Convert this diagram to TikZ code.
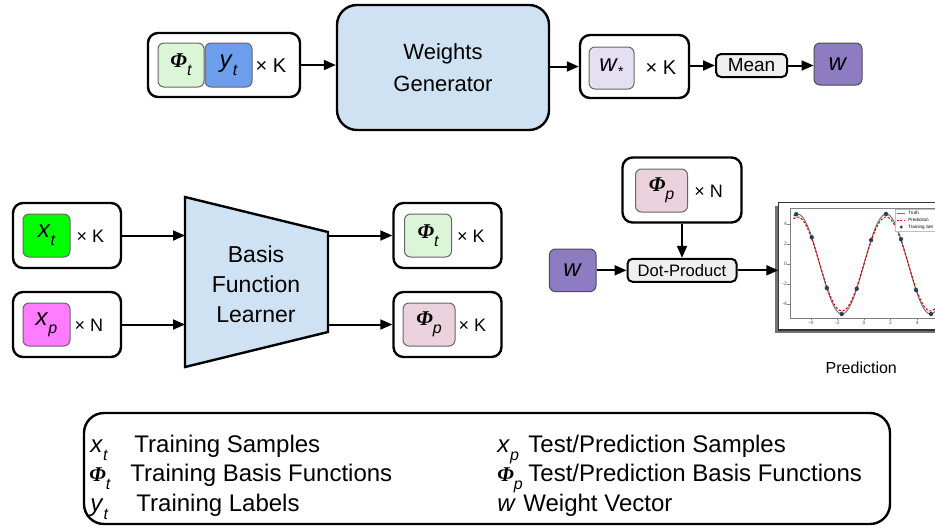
\documentclass[tikz,border=0pt]{standalone}
\usepackage{fontspec}
\setmainfont{Liberation Sans}
\newfontfamily\phifont{Liberation Serif}
\usetikzlibrary{arrows.meta}

\definecolor{gencol}{HTML}{CFE2F3}
\definecolor{phitcol}{HTML}{DAF6D7}
\definecolor{ytcol}{HTML}{6D9EEB}
\definecolor{wstarcol}{HTML}{E4E0F1}
\definecolor{wcol}{HTML}{8E7CC3}
\definecolor{xtcol}{HTML}{00FF00}
\definecolor{xpcol}{HTML}{FF7BFF}
\definecolor{phipcol}{HTML}{EAD1DC}
\definecolor{opgray}{HTML}{EFEFEF}
\definecolor{dotcol}{HTML}{2C3E5C}

\newcommand{\subtxt}[2]{\raisebox{#1}{\fontsize{8}{8}\selectfont\itshape #2}}
\newcommand{\isub}[3][-4pt]{\textit{#2}\subtxt{#1}{#3}}
\newcommand{\phisub}[2][-4pt]{{\fontsize{10.5}{10.5}\selectfont\phifont\bfseries\itshape Φ}\subtxt{#1}{#2}}

\tikzset{
  holder/.style={draw, line width=1.2pt, rounded corners=5pt, fill=white, inner sep=0pt},
  tile/.style={draw=black!60, line width=0.5pt, rounded corners=3pt, inner sep=0pt, font=\fontsize{12}{12}\selectfont},
  opbox/.style={draw, line width=1pt, rounded corners=2.5pt, fill=opgray, inner sep=0pt},
  times/.style={inner sep=0pt, font=\fontsize{9}{10}\selectfont},
  flow/.style={-{Triangle[length=6pt,width=5pt]}, line width=1pt},
  legsym/.style={anchor=base west, inner sep=0pt, font=\fontsize{12}{14}\selectfont},
  tick/.style={inner sep=0.4pt, font=\fontsize{2.5}{3}\selectfont, text=black!70},
}

\begin{document}
\begin{tikzpicture}[x=0.5pt, y=-0.5pt]
\useasboundingbox (0,0) rectangle (935,527);

\node[holder, minimum width=76pt, minimum height=32pt] (trainset) at (224,65) {};
\node[tile, fill=phitcol, minimum width=23pt, minimum height=22pt] (phitrain) at (181,65) {\phisub{t}};
\node[tile, fill=ytcol, minimum width=23.5pt, minimum height=22pt] (ytrain) at (228.5,65) {\isub{y}{t}};
\node[times, font=\fontsize{10}{12}\selectfont] (trainmult) at (271,66) {× K};
\node[draw, line width=1.2pt, rounded corners=10pt, fill=gencol, minimum width=106pt, minimum height=62.5pt,
      align=center, font=\fontsize{11}{16}\selectfont] (gen) at (443,67.5) {Weights\\Generator};
\node[holder, minimum width=54.5pt, minimum height=31.5pt] (wset) at (634.5,66.5) {};
\node[tile, fill=wstarcol, minimum width=22.5pt, minimum height=21pt] (wstar) at (611.5,68) {\textit{w}\raisebox{-2.5pt}{\fontsize{7}{7}\selectfont *}};
\node[times, font=\fontsize{10}{12}\selectfont] (wmult) at (661,68) {× K};
\node[opbox, minimum width=35.5pt, minimum height=11.5pt, font=\fontsize{9.5}{11}\selectfont] (mean) at (751.5,65.5) {Mean};
\node[tile, draw=black!70, fill=wcol, minimum width=24pt, minimum height=21pt] (wout) at (838,64) {\textit{w}};

\node[holder, minimum width=54pt, minimum height=32.5pt] (xtbox) at (67,235.5) {};
\node[tile, fill=xtcol, minimum width=23.5pt, minimum height=21.5pt] (xtrain) at (46.5,235.5) {\isub{x}{t}};
\node[times] (xtmult) at (90.5,236.5) {× K};
\node[holder, minimum width=54pt, minimum height=32.5pt] (xpbox) at (67,324.5) {};
\node[tile, fill=xpcol, minimum width=23.5pt, minimum height=21.5pt] (xpred) at (46.5,324.5) {\isub{x}{p}};
\node[times] (xpmult) at (89,325) {× N};

\draw[line width=1.2pt, fill=gencol] (185,197) coordinate (bfltl) -- (328,232) coordinate (bfltr)
  -- (328,332) coordinate (bflbr) -- (185,367) coordinate (bflbl) -- cycle;
\node[align=center, inner sep=0pt, font=\fontsize{11.5}{15}\selectfont] (bfl) at (256,284) {Basis\\Function\\Learner};

\node[holder, minimum width=54pt, minimum height=32.5pt] (phitbox) at (447.5,235.5) {};
\node[tile, fill=phitcol, minimum width=23.5pt, minimum height=21.5pt] (phitout) at (428,235.5) {\phisub{t}};
\node[times] (phitmult) at (471,236.5) {× K};
\node[holder, minimum width=54pt, minimum height=32.5pt] (phipbox) at (447.5,324.5) {};
\node[tile, fill=phipcol, minimum width=26pt, minimum height=21.5pt] (phipout) at (429,324.5) {\phisub{p}};
\node[times] (phipmult) at (472.5,325) {× K};

\node[holder, minimum width=59.5pt, minimum height=32.5pt] (phipset) at (682,190) {};
\node[tile, fill=phipcol, minimum width=26pt, minimum height=21.5pt] (phipn) at (661.5,190.5) {\phisub{p}};
\node[times] (phipnmult) at (708.5,191.5) {× N};
\node[opbox, minimum width=54.5pt, minimum height=11.5pt, font=\fontsize{8.3}{10}\selectfont] (dot) at (682,270.3) {Dot-Product};
\node[tile, draw=black!70, fill=wcol, minimum width=23.3pt, minimum height=21.3pt] (win) at (572.7,270.3) {\textit{w}};
\coordinate (plotin) at (778.3,270.3);

\begin{scope}
  \clip (0,0) rectangle (935,527);
  \fill[black!55] (775,206) rectangle (960,333);
  \draw[black!80, line width=0.8pt, fill=white] (778.3,202.3) rectangle (960,330);
  \begin{scope}[shift={(864,264)}, x=6.65pt, y=5pt]
    \draw[black!50, line width=0.3pt] (-5.56,5.6) rectangle (7,-5.4);
    \foreach \t [count=\i] in {-4,-2,0,2,4} {
      \draw[black!50, line width=0.3pt] (\t,-5.4) -- (\t,-5.6);
      \node[tick, below] (xtick\i) at (\t,-5.55) {\t};
      \draw[black!50, line width=0.3pt] (-5.56,\t) -- (-5.76,\t);
      \node[tick, left] (ytick\i) at (-5.7,\t) {\t};
    }
    \draw[black!55, line width=0.5pt, domain=-5.3:6.5, samples=90, smooth] plot (\x, {5*sin(0.943*\x r)});
    \draw[red!85!black, dash pattern=on 1.2pt off 0.8pt, line width=0.5pt, domain=-5.3:6.5, samples=90, smooth]
      plot (\x, {4.7*sin(0.943*\x r + 0.03)});
    \foreach \p in {-5.1,-3.93,-2.8,-1.68,-0.55,0.53,1.65,2.78,3.91,5.04}
      \fill[dotcol] (\p,{5*sin(0.943*\p r)}) circle (1.1pt);
    \draw[black!25, line width=0.2pt, fill=white] (2.35,5.45) rectangle (7,3.3);
    \draw[black!55, line width=0.4pt] (2.5,5.1) -- (3.1,5.1);
    \node[anchor=west, inner sep=0pt, font=\fontsize{2.3}{3}\selectfont] (legtruth) at (3.3,5.1) {Truth};
    \draw[red!85!black, dash pattern=on 1pt off 0.6pt, line width=0.4pt] (2.5,4.4) -- (3.1,4.4);
    \node[anchor=west, inner sep=0pt, font=\fontsize{2.3}{3}\selectfont] (legpred) at (3.3,4.4) {Prediction};
    \fill[dotcol] (2.8,3.7) circle (0.8pt);
    \node[anchor=west, inner sep=0pt, font=\fontsize{2.3}{3}\selectfont] (legtrain) at (3.3,3.7) {Training Set};
  \end{scope}
\end{scope}
\node[font=\fontsize{8}{10}\selectfont] (predlabel) at (861.3,368) {Prediction};

\begin{scope}[flow]
  \draw (trainset.east) -- (trainset.east -| gen.west);
  \draw (gen.east |- wset.west) -- (wset.west);
  \draw (wset.east |- mean.west) -- (mean.west);
  \draw (mean.east) -- (mean.east -| wout.west);
  \draw (xtbox.east) -- (xtbox.east -| bfltl);
  \draw (xpbox.east) -- (xpbox.east -| bfltl);
  \draw (bfltr |- phitbox.west) -- (phitbox.west);
  \draw (bflbr |- phipbox.west) -- (phipbox.west);
  \draw (phipset.south) -- (phipset.south |- dot.north);
  \draw (win) -- (dot);
  \draw (dot) -- (plotin);
\end{scope}

\node[holder, rounded corners=10pt, minimum width=403pt, minimum height=55.5pt] (legend) at (487,468.5) {};
\node[legsym] (legxt) at (90,452) {\isub{x}{t}};
\node[legsym] (legxtd) at (134,452) {Training Samples};
\node[legsym] (legphit) at (89,481.5) {\phisub{t}};
\node[legsym] (legphitd) at (130,481.5) {Training Basis Functions};
\node[legsym] (legyt) at (90,511.5) {\isub{y}{t}};
\node[legsym] (legytd) at (136,511.5) {Training Labels};
\node[legsym] (legxp) at (497,452) {\isub{x}{p}};
\node[legsym] (legxpd) at (528,452) {Test/Prediction Samples};
\node[legsym] (legphip) at (497,481.5) {\phisub{p}};
\node[legsym] (legphipd) at (528,481.5) {Test/Prediction Basis Functions};
\node[legsym] (legw) at (497,511.5) {\textit{w}};
\node[legsym] (legwd) at (523,511.5) {Weight Vector};
\end{tikzpicture}
\end{document}
